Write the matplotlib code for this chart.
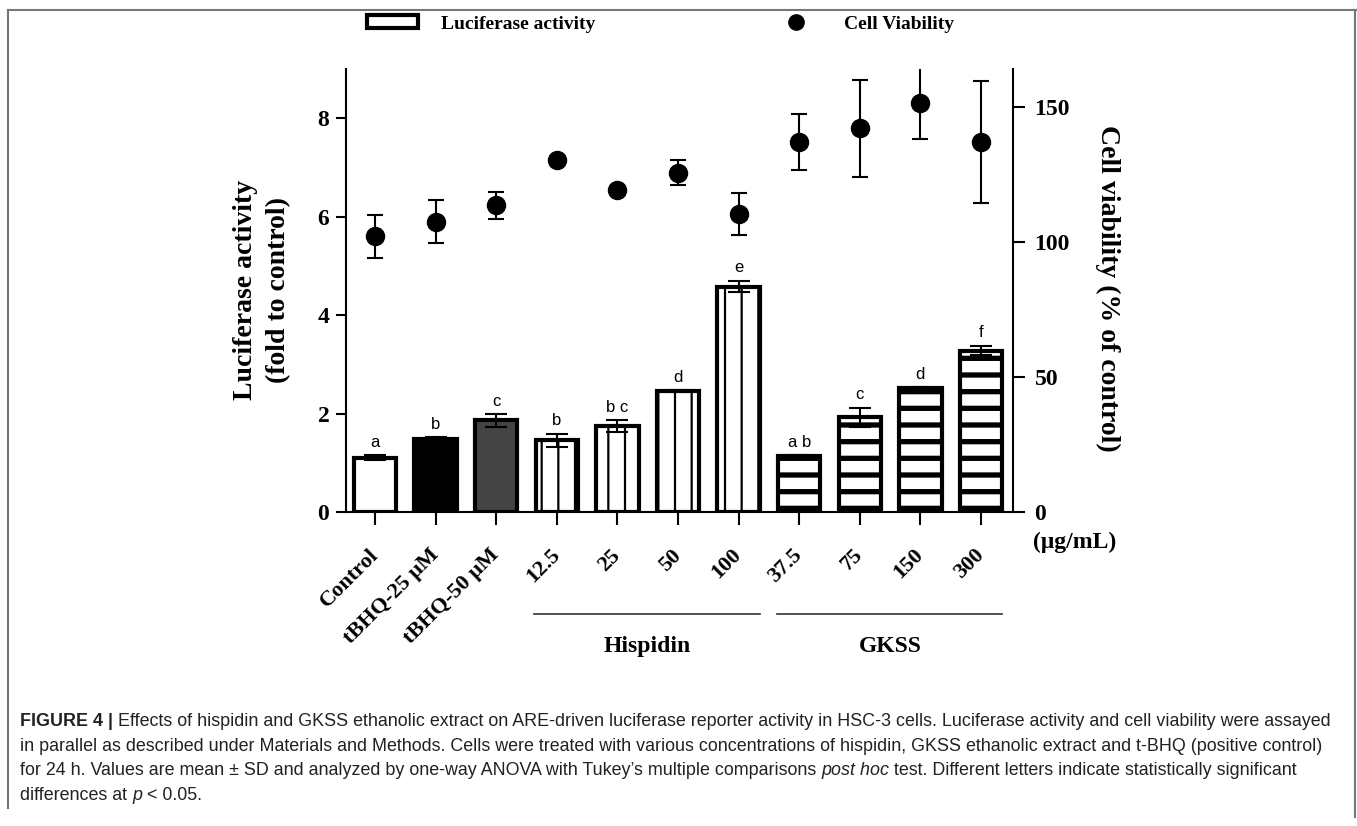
import numpy as np
import matplotlib
matplotlib.use('Agg')
import matplotlib.pyplot as plt
import matplotlib.transforms as mtransforms
from matplotlib.patches import Patch
from matplotlib.lines import Line2D

# data
groups = ['Control', 'tBHQ-25 μM', 'tBHQ-50 μM', '12.5', '25', '50', '100',
          '37.5', '75', '150', '300']
luc_mean = [1.10, 1.48, 1.86, 1.46, 1.75, 2.45, 4.58, 1.13, 1.92, 2.51, 3.28]
luc_sd = [0.05, 0.04, 0.13, 0.13, 0.12, 0.02, 0.12, 0.03, 0.20, 0.02, 0.10]
letters = ['a', 'b', 'c', 'b', 'b c', 'd', 'e', 'a b', 'c', 'd', 'f']
via_mean = [102, 107.5, 113.5, 130.4, 119.3, 125.6, 110.4, 137, 142, 151.5, 137]
via_sd = [8, 8, 5, 1, 1, 4.7, 7.8, 10.4, 18, 13.4, 22.6]
group_names = ['Hispidin', 'GKSS']
group_members = [(3, 6), (7, 10)]

faces = ['white', 'black', '#444444'] + ['white'] * 8
hatches = ['', '', ''] + ['|'] * 4 + ['-'] * 4

SERIF = 'Liberation Serif'
W, H = 1357, 826

plt.rcParams['hatch.linewidth'] = 1.6
fig = plt.figure(figsize=(W / 100, H / 100), dpi=100)
ax = fig.add_axes([346 / W, 1 - 512 / H, (1013 - 346) / W, (512 - 69) / H])

x = np.arange(len(groups))
bars = ax.bar(x, luc_mean, width=0.7, color=faces, edgecolor='black', linewidth=3, zorder=2)
for b, h in zip(bars, hatches):
    b.set_hatch(h)
    if h == '-' and hasattr(b, 'set_hatch_linewidth'):
        b.set_hatch_linewidth(3.8)
ax.errorbar(x, luc_mean, yerr=luc_sd, fmt='none', ecolor='black', elinewidth=1.5,
            capsize=8, capthick=1.5, zorder=3)
for xi, m, s, t in zip(x, luc_mean, luc_sd, letters):
    ax.annotate(t, (xi, m + s), xytext=(0, 6), textcoords='offset points',
                ha='center', va='baseline', fontsize=12, family='Liberation Sans')

ax.set_xlim(-0.48, 10.53)
ax.set_ylim(0, 9)
ax.set_yticks([0, 2, 4, 6, 8])
ax.set_xticks(x, groups)
for lab in ax.get_xticklabels():
    lab.set_rotation(45)
    lab.set_rotation_mode('anchor')
    lab.set_ha('right')
    lab.set_va('center')
ax.tick_params(axis='x', length=9, width=1.5, pad=20, labelsize=16)
ax.tick_params(axis='y', length=7, width=1.5, pad=5, labelsize=17)
for lab in ax.get_xticklabels() + ax.get_yticklabels():
    lab.set_family(SERIF)
    lab.set_weight('bold')
for sp in ['top', 'right']:
    ax.spines[sp].set_visible(False)
for sp in ['left', 'bottom']:
    ax.spines[sp].set_linewidth(1.5)

ax2 = ax.twinx()
ax2.errorbar(x, via_mean, yerr=via_sd, fmt='o', color='black', ms=13,
             elinewidth=1.5, capsize=6, capthick=1.5, zorder=4)
ax2.set_ylim(0, 164)
ax2.set_yticks([0, 50, 100, 150])
ax2.tick_params(axis='y', length=8.5, width=1.5, pad=7, labelsize=17)
for lab in ax2.get_yticklabels():
    lab.set_family(SERIF)
    lab.set_weight('bold')
for sp in ['top', 'left', 'bottom']:
    ax2.spines[sp].set_visible(False)
ax2.spines['right'].set_linewidth(1.5)

fig.text(262 / W, 1 - 290 / H, 'Luciferase activity\n(fold to control)', rotation=90,
         ha='center', va='center', multialignment='center', linespacing=1.4,
         family=SERIF, weight='bold', fontsize=20)
fig.text(1108 / W, 1 - 288 / H, 'Cell viability (% of control)', rotation=270,
         ha='center', va='center', family=SERIF, weight='bold', fontsize=20)
fig.text(1075 / W, 1 - 542 / H, '(μg/mL)', ha='center', va='center',
         family=SERIF, weight='bold', fontsize=17)

# group brackets under the tick labels
trans = mtransforms.blended_transform_factory(ax.transData, ax.transAxes)
for name, (i0, i1) in zip(group_names, group_members):
    ax.plot([i0 - 0.37, i1 + 0.35], [-0.231, -0.231], color='#333333', lw=1.2,
            transform=trans, clip_on=False)
    ax.text((i0 + i1) / 2, -0.303, name, transform=trans, ha='center', va='center',
            family=SERIF, weight='bold', fontsize=17)

handles = [Patch(facecolor='white', edgecolor='black', linewidth=3, label='Luciferase activity'),
           Line2D([], [], ls='none', marker='o', color='black', ms=11, label='Cell Viability')]
fig.legend(handles=handles, loc='center', bbox_to_anchor=(0.487, 1 - 24 / H), ncol=2,
           frameon=False, prop=dict(family=SERIF, weight='bold', size=14),
           handlelength=2.6, handleheight=0.6, handletextpad=1.2, columnspacing=9)

# frame around the figure panel
for xs, ys in [([8, 1356], [10, 10]), ([8, 8], [10, 808]), ([1355, 1355], [10, 817])]:
    fig.add_artist(Line2D([v / W for v in xs], [1 - v / H for v in ys],
                          color='#777777', lw=1.5, transform=fig.transFigure))

# caption, one line at a time
CAP = ['Liberation Sans']
caption = [
    [('FIGURE 4 | ', 'bold', 'normal'),
     ('Effects of hispidin and GKSS ethanolic extract on ARE-driven luciferase reporter activity in HSC-3 cells. '
      'Luciferase activity and cell viability were assayed', 'normal', 'normal')],
    [('in parallel as described under Materials and Methods. Cells were treated with various concentrations of '
      'hispidin, GKSS ethanolic extract and t-BHQ (positive control)', 'normal', 'normal')],
    [('for 24 h. Values are mean ± SD and analyzed by one-way ANOVA with Tukey\u2019s multiple comparisons ',
      'normal', 'normal'), ('post hoc', 'normal', 'italic'),
     (' test. Different letters indicate statistically significant', 'normal', 'normal')],
    [('differences at ', 'normal', 'normal'), ('p', 'normal', 'italic'), (' < 0.05.', 'normal', 'normal')],
]
baselines = [726, 751, 775, 800]
for segs, yb in zip(caption, baselines):
    prev = None
    for txt, wt, st in segs:
        kw = dict(family=CAP, weight=wt, style=st, fontsize=12.9, color='#222222')
        if prev is None:
            prev = fig.text(20 / W, 1 - yb / H, txt, ha='left', va='baseline', **kw)
        else:
            prev = ax.annotate(txt, xy=(1, 0), xycoords=prev, ha='left', va='bottom',
                               annotation_clip=False, **kw)

fig.savefig('out.png', dpi=100)
